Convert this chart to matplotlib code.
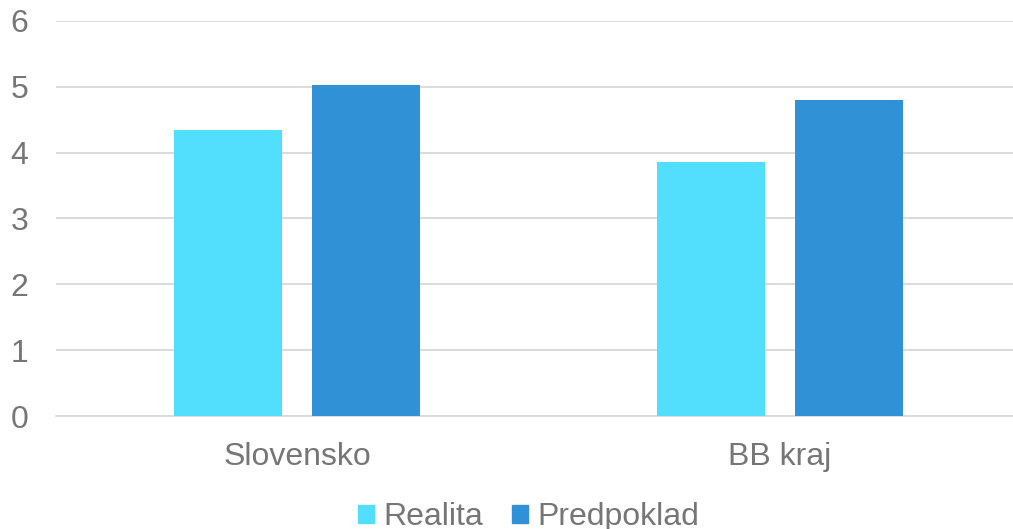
import matplotlib.pyplot as plt
import numpy as np
from matplotlib.patches import Patch

plt.rcParams['font.family'] = ['Liberation Sans', 'DejaVu Sans']

# data
categories = ['Slovensko', 'BB kraj']
realita = [4.34, 3.86]
predpoklad = [5.03, 4.80]
series_names = ['Realita', 'Predpoklad']
colors = ['#52DFFE', '#3091D6']
text_color = '#767676'
grid_color = '#D9D9D9'

fig = plt.figure(figsize=(10.13, 5.29), dpi=100)
ax = fig.add_axes([56 / 1013, 113 / 529, 965 / 1013, 395 / 529])

x = np.arange(len(categories))
width = 0.224
offset = 0.143
ax.bar(x - offset, realita, width, color=colors[0], zorder=3)
ax.bar(x + offset, predpoklad, width, color=colors[1], zorder=3)

ax.set_xlim(-0.5, 1.5)
ax.set_ylim(0, 6)
ax.set_yticks(range(0, 7))
ax.set_xticks(x)
ax.set_xticklabels(categories)
ax.yaxis.grid(True, color=grid_color, linewidth=1.3, zorder=0)
ax.set_axisbelow(True)

for s in ['top', 'right', 'left']:
    ax.spines[s].set_visible(False)
ax.spines['bottom'].set_color(grid_color)
ax.spines['bottom'].set_linewidth(1.3)

ax.tick_params(axis='both', length=0, colors=text_color, labelsize=23)
ax.tick_params(axis='y', pad=20)
ax.tick_params(axis='x', pad=19)

handles = [Patch(color=c) for c in colors]
fig.legend(handles, series_names, loc='lower center', bbox_to_anchor=(0.522, -0.06),
           ncol=2, frameon=False, fontsize=23, labelcolor=text_color,
           handlelength=0.5, handleheight=0.5, handletextpad=0.3, columnspacing=0.9)

plt.savefig('out.png', dpi=100)
